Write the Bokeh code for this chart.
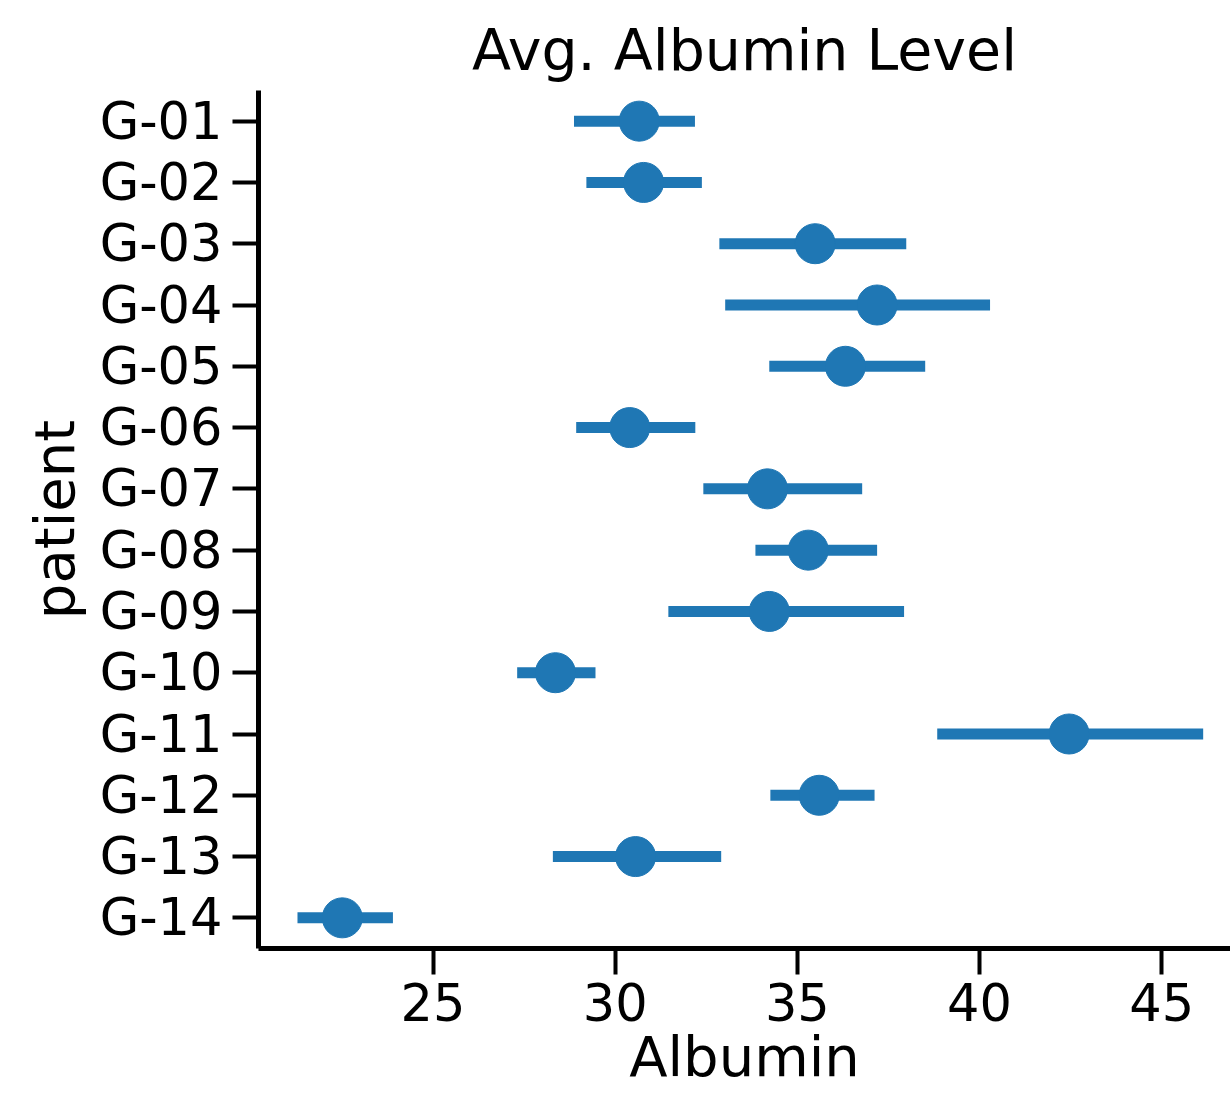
from bokeh.plotting import figure
from bokeh.models import FactorRange, Range1d, ColumnDataSource, FixedTicker
from bokeh.embed import file_html
from bokeh.resources import INLINE

patients = ["G-01", "G-02", "G-03", "G-04", "G-05", "G-06", "G-07",
            "G-08", "G-09", "G-10", "G-11", "G-12", "G-13", "G-14"]
mean_alb = [30.66, 30.78, 35.49, 37.19, 36.32, 30.40, 34.18,
            35.30, 34.23, 28.36, 42.46, 35.60, 30.56, 22.51]
ci_low = [28.87, 29.21, 32.86, 33.02, 34.23, 28.93, 32.42,
          33.85, 31.46, 27.31, 38.84, 34.26, 28.29, 21.28]
ci_high = [32.19, 32.38, 37.99, 40.29, 38.51, 32.20, 36.78,
           37.19, 37.93, 29.46, 46.14, 37.12, 32.91, 23.90]
x_ticks = [25, 30, 35, 40, 45]

BLUE = "#1f77b4"
FONT = "DejaVu Sans"

src = ColumnDataSource(dict(patient=patients, mean=mean_alb, lo=ci_low, hi=ci_high))

p = figure(width=1230, height=1096, output_backend="svg", toolbar_location=None,
           y_range=FactorRange(factors=list(reversed(patients)), range_padding=0),
           x_range=Range1d(20.21, 46.89),
           min_border_left=258, min_border_right=0, min_border_top=90, min_border_bottom=148)

p.segment(x0="lo", x1="hi", y0="patient", y1="patient", source=src,
          line_color=BLUE, line_width=11)
p.scatter(x="mean", y="patient", source=src, size=40, fill_color=BLUE, line_color=BLUE)

p.title.text = "Avg. Albumin Level"
p.title.align = "center"
p.title.text_font = FONT
p.title.text_font_size = "57px"
p.title.text_font_style = "normal"
p.title.text_color = "black"
p.title.standoff = 15

p.grid.visible = False
p.outline_line_color = None

for ax in (p.xaxis[0], p.yaxis[0]):
    ax.axis_line_width = 5
    ax.axis_line_color = "black"
    ax.major_tick_line_width = 4
    ax.major_tick_line_color = "black"
    ax.major_tick_out = 26
    ax.major_tick_in = 0
    ax.minor_tick_line_color = None
    ax.major_label_text_font = FONT
    ax.major_label_text_font_size = "51px"
    ax.major_label_text_color = "black"
    ax.axis_label_text_font = FONT
    ax.axis_label_text_font_size = "56px"
    ax.axis_label_text_font_style = "normal"
    ax.axis_label_text_color = "black"

p.xaxis.ticker = FixedTicker(ticks=x_ticks)
p.xaxis.axis_label = "Albumin"
p.xaxis.major_label_standoff = 8
p.xaxis.axis_label_standoff = 0
p.yaxis.axis_label = "patient"
p.yaxis.major_label_standoff = 10
p.yaxis.axis_label_standoff = 10

open("out.html", "w").write(file_html(p, INLINE))
